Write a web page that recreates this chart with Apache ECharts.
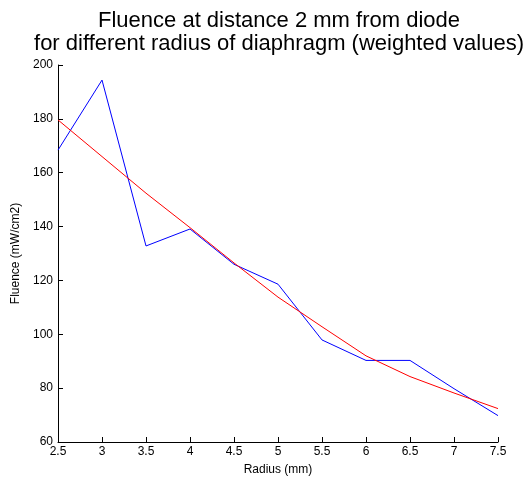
<!DOCTYPE html>
<html>
<head>
<meta charset="UTF-8">
<title>Fluence vs radius</title>
<script src="https://cdn.jsdelivr.net/npm/echarts@6/dist/echarts.min.js"></script>
<style>
  html, body { margin: 0; padding: 0; background: #fff; }
  #main { width: 532px; height: 484px; }
</style>
</head>
<body>
<div id="main"></div>
<script>
// radius of diaphragm (mm)
const radius = [2.5, 3, 3.5, 4, 4.5, 5, 5.5, 6, 6.5, 7, 7.5];
// measured fluence (weighted values), mW/cm2
const measured = [168.4, 194.4, 132.8, 139.1, 126, 118.6, 97.9, 90.3, 90.3, 79.8, 69.8];
// fitted curve
const fitted = [179.6, 166, 152.4, 139.6, 126.5, 113.8, 102.8, 92, 84.3, 78.2, 72.4];

const chart = echarts.init(document.getElementById('main'));

const font = 'Liberation Sans, Arial, sans-serif';

chart.setOption({
  animation: false,
  backgroundColor: '#fff',
  title: {
    text: 'Fluence at distance 2 mm from diode\nfor different radius of diaphragm (weighted values)',
    left: 274,
    textAlign: 'center',
    top: 4,
    textStyle: { fontFamily: font, fontSize: 22, fontWeight: 'normal', color: '#000', lineHeight: 23 }
  },
  grid: { left: 58, right: 34, top: 65, bottom: 42 },
  xAxis: {
    type: 'value',
    min: 2.5, max: 7.5, interval: 0.5,
    name: 'Radius (mm)',
    nameLocation: 'middle',
    nameGap: 22,
    nameTextStyle: { fontFamily: font, fontSize: 12, color: '#000' },
    axisLine: { lineStyle: { color: '#000', width: 1 } },
    axisTick: { inside: true, length: 5, lineStyle: { color: '#000' } },
    axisLabel: { fontFamily: font, fontSize: 12, color: '#000', margin: 4 },
    splitLine: { show: false }
  },
  yAxis: {
    type: 'value',
    min: 60, max: 200, interval: 20,
    name: 'Fluence (mW/cm2)',
    nameLocation: 'middle',
    nameGap: 36,
    nameTextStyle: { fontFamily: font, fontSize: 12, color: '#000' },
    axisLine: { show: true, lineStyle: { color: '#000', width: 1 } },
    axisTick: { show: true, inside: true, length: 5, lineStyle: { color: '#000' } },
    axisLabel: { fontFamily: font, fontSize: 12, color: '#000', margin: 5 },
    splitLine: { show: false }
  },
  series: [
    {
      name: 'measured',
      type: 'line',
      data: radius.map((r, i) => [r, measured[i]]),
      symbol: 'none',
      lineStyle: { color: '#0000ff', width: 1 },
      z: 2
    },
    {
      name: 'fit',
      type: 'line',
      data: radius.map((r, i) => [r, fitted[i]]),
      symbol: 'none',
      lineStyle: { color: '#ff0000', width: 1 },
      z: 3
    }
  ]
});
</script>
</body>
</html>
